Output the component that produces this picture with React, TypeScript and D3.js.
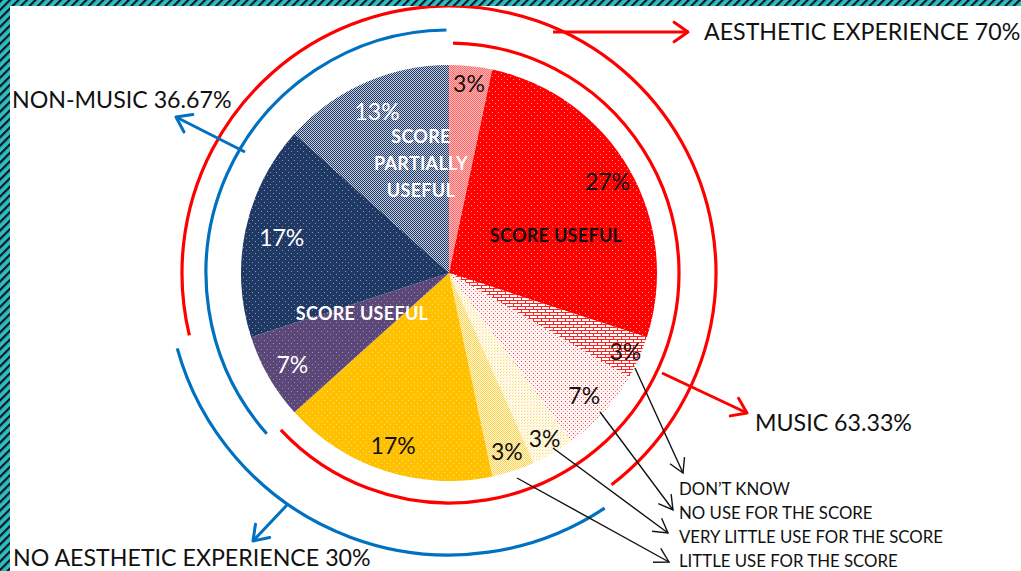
import React from "react";
import * as d3 from "d3";

// ---------------- data ----------------
const sliceNames = [
  "Music · aesthetic · score partially useful",
  "Music · aesthetic · score useful",
  "Music · aesthetic · don't know",
  "Music · aesthetic · no use for the score",
  "Music · no aesthetic · very little use for the score",
  "Music · no aesthetic · little use for the score",
  "Music · no aesthetic · score useful",
  "Non-music · no aesthetic · score useful",
  "Non-music · aesthetic · score useful",
  "Non-music · aesthetic · score partially useful",
];
const sliceValues = [3.33, 26.67, 3.33, 6.67, 3.33, 3.33, 16.67, 6.67, 16.67, 13.33];
const sliceLabels = ["3%", "27%", "3%", "7%", "3%", "3%", "17%", "7%", "17%", "13%"];
const sliceIsMusic = [1, 1, 1, 1, 1, 1, 1, 0, 0, 0];
const sliceIsAesthetic = [1, 1, 1, 1, 0, 0, 0, 0, 1, 1];
const groupLabels = ["MUSIC 63.33%", "NON-MUSIC 36.67%", "AESTHETIC EXPERIENCE 70%", "NO AESTHETIC EXPERIENCE 30%"];
const legendLabels = ["DON\u2019T KNOW", "NO USE FOR THE SCORE", "VERY LITTLE USE FOR THE SCORE", "LITTLE USE FOR THE SCORE"];
const categoryLabels = [["SCORE USEFUL"], ["SCORE USEFUL"], ["SCORE", "PARTIALLY", "USEFUL"]];

// ---------------- styles / layout ----------------
const W = 1021, H = 571;
const CX = 449, CY = 273, R = 208;
const RED = "#FF0000", BLUE = "#0070C0";
const FONT = "Lato, 'Open Sans', sans-serif";
const slicePatterns = ["pPink", "pRed", "pBrick", "pNoUse", "pVeryLittle", "pLittle", "pYellow", "pPurple", "pNavy", "pGrey"];
const sliceTextColors = ["#111", "#111", "#111", "#111", "#111", "#111", "#111", "#fff", "#fff", "#fff"];
const labelRadius = [191, 183, 193, 182, 191, 187, 181, 181, 171, 177];
const categoryLabelPos = [
  { x: 556, y: 235, color: "#111" },
  { x: 362, y: 313, color: "#fff" },
  { x: 421, y: 136, color: "#fff" },
];
const rings = [
  { flags: sliceIsMusic, on: 1, r: 230, color: RED, pad: [1, 1] },
  { flags: sliceIsMusic, on: 0, r: 243, color: BLUE, pad: [0.6, 0.6] },
  { flags: sliceIsAesthetic, on: 1, r: 267, color: RED, pad: [4.5, 1.5] },
  { flags: sliceIsAesthetic, on: 0, r: 282, color: BLUE, pad: [2.5, -2.5] },
];
const groupArrows = [
  { from: [662, 373], to: [747, 413], color: RED, text: [755, 431] },
  { from: [245, 152], to: [176, 117], color: BLUE, text: [12, 108] },
  { from: [553, 32], to: [688, 32], color: RED, text: [704, 40] },
  { from: [287, 505], to: [253, 541], color: BLUE, text: [13, 566] },
];
const legendArrows = [
  { from: [635, 368], to: [683, 473] },
  { from: [600, 412], to: [673, 510] },
  { from: [553, 448], to: [668, 533] },
  { from: [517, 478], to: [669, 562] },
];
const legendX = 679;
const legendBaselines = [495, 519, 543, 567];

function groupRange(flags: number[], on: number, values: number[]) {
  const n = flags.length;
  const total = d3.sum(values);
  let start = 0;
  for (let i = 0; i < n; i++) {
    if (flags[i] === on && flags[(i - 1 + n) % n] !== on) { start = i; break; }
  }
  const cum = d3.sum(values.slice(0, start));
  let sum = 0;
  for (let k = 0; k < n; k++) {
    const i = (start + k) % n;
    if (flags[i] !== on) break;
    sum += values[i];
  }
  const a0 = (cum / total) * 2 * Math.PI;
  const a1 = ((cum + sum) / total) * 2 * Math.PI;
  return [a0, a1];
}

function ringPath(r: number, a0: number, a1: number) {
  const p = d3.path();
  p.arc(0, 0, r, a0 - Math.PI / 2, a1 - Math.PI / 2);
  return p.toString();
}

function arrowHead(from: number[], to: number[], len: number, half: number) {
  const ang = Math.atan2(to[1] - from[1], to[0] - from[0]);
  const a1 = ang + Math.PI - half;
  const a2 = ang + Math.PI + half;
  const p = d3.path();
  p.moveTo(to[0] + len * Math.cos(a1), to[1] + len * Math.sin(a1));
  p.lineTo(to[0], to[1]);
  p.lineTo(to[0] + len * Math.cos(a2), to[1] + len * Math.sin(a2));
  return p.toString();
}

export default function App() {
  const pie = d3.pie<number>().sort(null).value((d) => d).startAngle(0).endAngle(2 * Math.PI);
  const arcs = pie(sliceValues);
  const arcGen = d3.arc<d3.PieArcDatum<number>>().innerRadius(0).outerRadius(R);
  const deg = Math.PI / 180;

  return (
    <svg width={W} height={H} style={{ position: "absolute", left: 0, top: 0, background: "#fff" }}
      fontFamily={FONT}>
      <defs>
        <pattern id="stripes" width="6" height="6" patternUnits="userSpaceOnUse" patternTransform="rotate(45)">
          <rect width="6" height="6" fill="#2FBCC4" />
          <rect width="2.2" height="6" fill="#0b1a1c" />
        </pattern>
        <pattern id="pPink" width="2" height="2" patternUnits="userSpaceOnUse">
          <rect width="2" height="2" fill="#FFB8B8" />
          <rect width="1" height="1" fill="#FF6A6A" />
          <rect x="1" y="1" width="1" height="1" fill="#FF6A6A" />
        </pattern>
        <pattern id="pRed" width="6" height="6" patternUnits="userSpaceOnUse">
          <rect width="6" height="6" fill="#FF0000" />
          <rect x="1" y="1" width="1" height="1" fill="#FF9A9A" />
          <rect x="4" y="4" width="1" height="1" fill="#FF9A9A" />
        </pattern>
        <pattern id="pBrick" width="8" height="6" patternUnits="userSpaceOnUse">
          <rect width="8" height="6" fill="#fff" />
          <rect y="0" width="8" height="1" fill="#FF2020" />
          <rect y="3" width="8" height="1" fill="#FF2020" />
          <rect x="0" y="0" width="1" height="3" fill="#FF2020" />
          <rect x="4" y="3" width="1" height="3" fill="#FF2020" />
        </pattern>
        <pattern id="pNoUse" width="4" height="4" patternUnits="userSpaceOnUse">
          <rect width="4" height="4" fill="#FFF6F6" />
          <rect x="0" y="0" width="1" height="1" fill="#FF3030" />
          <rect x="2" y="2" width="1" height="1" fill="#FF8080" />
        </pattern>
        <pattern id="pVeryLittle" width="3" height="3" patternUnits="userSpaceOnUse">
          <rect width="3" height="3" fill="#FFFBEE" />
          <rect width="1" height="1" fill="#FFD966" />
          <rect x="1" y="2" width="1" height="1" fill="#FFE9A8" />
        </pattern>
        <pattern id="pLittle" width="2" height="2" patternUnits="userSpaceOnUse">
          <rect width="2" height="2" fill="#FFF8E0" />
          <rect width="1" height="1" fill="#FFD24A" />
          <rect x="1" y="1" width="1" height="1" fill="#FFD24A" />
        </pattern>
        <pattern id="pYellow" width="6" height="6" patternUnits="userSpaceOnUse">
          <rect width="6" height="6" fill="#FFC000" />
          <rect x="1" y="1" width="1" height="1" fill="#FFE07A" />
          <rect x="4" y="4" width="1" height="1" fill="#FFE07A" />
        </pattern>
        <pattern id="pPurple" width="6" height="6" patternUnits="userSpaceOnUse">
          <rect width="6" height="6" fill="#5C4779" />
          <rect x="1" y="1" width="1" height="1" fill="#9A8CB2" />
          <rect x="4" y="4" width="1" height="1" fill="#9A8CB2" />
        </pattern>
        <pattern id="pNavy" width="6" height="6" patternUnits="userSpaceOnUse">
          <rect width="6" height="6" fill="#1F3864" />
          <rect x="1" y="1" width="1" height="1" fill="#8595B5" />
          <rect x="4" y="4" width="1" height="1" fill="#8595B5" />
        </pattern>
        <pattern id="pGrey" width="2" height="2" patternUnits="userSpaceOnUse">
          <rect width="2" height="2" fill="#C4CEDF" />
          <rect width="1" height="1" fill="#1F3864" />
          <rect x="1" y="1" width="1" height="1" fill="#1F3864" />
        </pattern>
      </defs>

      <rect x={0} y={0} width={W} height={H} fill="#fff" />

      {/* pie */}
      <g transform={`translate(${CX},${CY})`}>
        {arcs.map((a, i) => (
          <path key={sliceNames[i]} d={arcGen(a) || ""} fill={`url(#${slicePatterns[i]})`} />
        ))}
        {rings.map((g, i) => {
          const [a0, a1] = groupRange(g.flags, g.on, sliceValues);
          return (
            <path key={i} d={ringPath(g.r, a0 + g.pad[0] * deg, a1 - g.pad[1] * deg)} fill="none"
              stroke={g.color} strokeWidth={3.2} />
          );
        })}
        {arcs.map((a, i) => {
          const m = (a.startAngle + a.endAngle) / 2;
          const r = labelRadius[i];
          return (
            <text key={"l" + i} x={r * Math.sin(m)} y={-r * Math.cos(m)} textAnchor="middle"
              dominantBaseline="central" fontSize={23} fill={sliceTextColors[i]}>
              {sliceLabels[i]}
            </text>
          );
        })}
      </g>

      {/* category labels inside pie */}
      {categoryLabels.map((lines, i) => (
        <text key={"c" + i} x={categoryLabelPos[i].x} y={categoryLabelPos[i].y} textAnchor="middle"
          dominantBaseline="central" fontSize={18} fontWeight="bold" fill={categoryLabelPos[i].color}
          letterSpacing={0.3}>
          {lines.map((t, j) => (
            <tspan key={j} x={categoryLabelPos[i].x} dy={j === 0 ? 0 : 27}>{t}</tspan>
          ))}
        </text>
      ))}

      {/* group arrows and labels */}
      {groupArrows.map((g, i) => (
        <g key={"g" + i}>
          <line x1={g.from[0]} y1={g.from[1]} x2={g.to[0]} y2={g.to[1]} stroke={g.color} strokeWidth={3} />
          <path d={arrowHead(g.from, g.to, 17, 35 * deg)} fill="none" stroke={g.color} strokeWidth={3}
            strokeLinecap="round" strokeLinejoin="round" />
          <text x={g.text[0]} y={g.text[1]} fontSize={23.2} fill="#111">{groupLabels[i]}</text>
        </g>
      ))}

      {/* legend arrows and labels */}
      {legendArrows.map((g, i) => (
        <g key={"a" + i}>
          <line x1={g.from[0]} y1={g.from[1]} x2={g.to[0]} y2={g.to[1]} stroke="#111" strokeWidth={1.4} />
          <path d={arrowHead(g.from, g.to, 16, 30 * deg)} fill="none" stroke="#111" strokeWidth={1.4} />
        </g>
      ))}
      {legendLabels.map((t, i) => (
        <text key={"t" + i} x={legendX} y={legendBaselines[i]} fontSize={16.8} fill="#111">{t}</text>
      ))}

      {/* page border */}
      <rect x={0} y={0} width={W} height={6} fill="url(#stripes)" />
      <rect x={0} y={0} width={10} height={H} fill="url(#stripes)" />
    </svg>
  );
}
